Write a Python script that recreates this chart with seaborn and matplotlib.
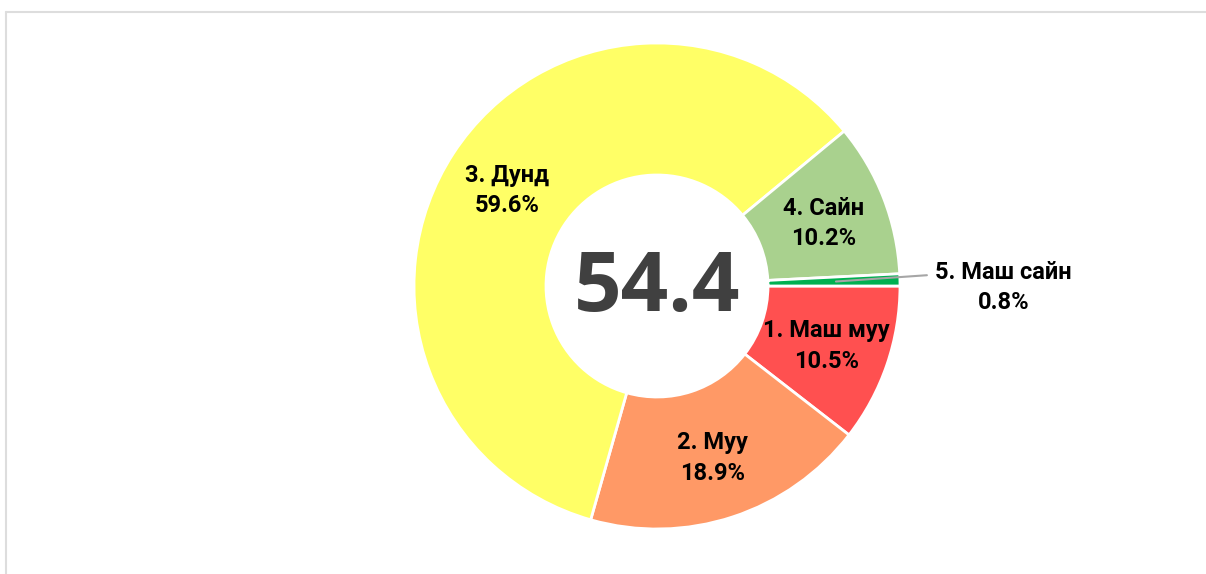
import numpy as np
import matplotlib.pyplot as plt
import seaborn as sns
from matplotlib.lines import Line2D

# data
labels = ['1. Маш муу', '2. Муу', '3. Дунд', '4. Сайн', '5. Маш сайн']
shares = [10.5, 18.9, 59.6, 10.2, 0.8]
colors = ['#FF5050', '#FF9966', '#FFFF66', '#A9D18E', '#00B050']
center_value = '54.4'

sns.set_theme(style="white")
plt.rcParams['font.family'] = ['Roboto', 'DejaVu Sans']

fig = plt.figure(figsize=(12.06, 5.74), dpi=100)
ax = fig.add_axes([0, 0, 1, 1])

cx, cy = 657, 288
r_out, r_in = 243, 111

wedges, _ = ax.pie(shares, colors=colors, startangle=0, counterclock=False,
                   center=(cx, cy), radius=r_out, frame=True,
                   wedgeprops=dict(width=r_out - r_in, edgecolor='white', linewidth=2))
ax.set_xlim(0, 1206)
ax.set_ylim(0, 574)
ax.set_aspect('equal')
ax.axis('off')

r_mid = (r_out + r_in) / 2 + 2
for w, lab, val in zip(wedges, labels, shares):
    ang = np.deg2rad((w.theta1 + w.theta2) / 2)
    txt = f'{lab}\n{val}%'
    if val < 2:
        # small slice: label outside with a leader line
        x0, y0 = cx + r_mid * np.cos(ang), cy + r_mid * np.sin(ang)
        x1, y1 = cx + 270 * np.cos(ang), cy + 270 * np.sin(ang) + 4
        ax.plot([x0, x1], [y0, y1], color='#A6A6A6', lw=1.5)
        ax.text(x1 + 8, y1 - 12, txt, ha='left', va='center', multialignment='center',
                fontsize=17, fontweight='bold', color='black', linespacing=1.4)
    else:
        ax.text(cx + r_mid * np.cos(ang), cy + r_mid * np.sin(ang) - 2, txt,
                ha='center', va='center', multialignment='center',
                fontsize=17, fontweight='bold', color='black', linespacing=1.4)

ax.text(cx, cy - 3, center_value, ha='center', va='center', fontsize=60,
        fontweight='bold', color='#404040', family=['Open Sans', 'DejaVu Sans'])

# light frame on top and left
fig.add_artist(Line2D([6 / 1206, 1], [1 - 12 / 574, 1 - 12 / 574], transform=fig.transFigure,
                      color='#DDDDDD', lw=1.5))
fig.add_artist(Line2D([6 / 1206, 6 / 1206], [0, 1 - 12 / 574], transform=fig.transFigure,
                      color='#DDDDDD', lw=1.5))

fig.savefig('out.png', dpi=100, facecolor='white')
